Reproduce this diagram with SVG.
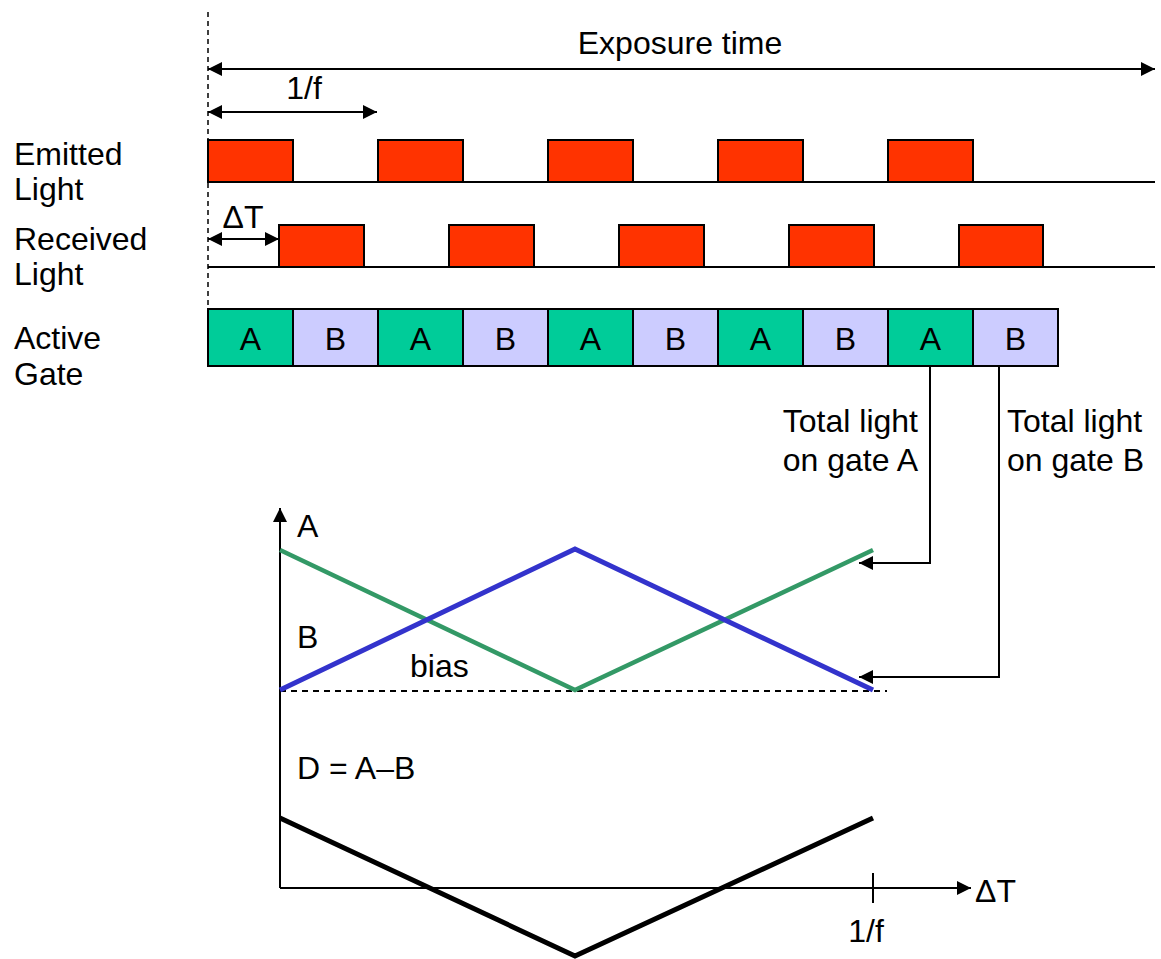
<svg xmlns="http://www.w3.org/2000/svg" width="1161" height="959" viewBox="0 0 1161 959">
<style>
text{font-family:"Liberation Sans",Arial,sans-serif;font-size:32px;fill:#000}
.mid{text-anchor:middle}
.end{text-anchor:end}
.pulse{fill:#FF3300;stroke:#000;stroke-width:2}
.ga{fill:#00CC99;stroke:#000;stroke-width:2}
.gb{fill:#CCCCFF;stroke:#000;stroke-width:2}
.ln{stroke:#000;stroke-width:2;fill:none}
</style>
<defs>
<marker id="ah" viewBox="0 0 10 10" refX="10" refY="5" markerWidth="15" markerHeight="14" markerUnits="userSpaceOnUse" orient="auto-start-reverse"><path d="M0,0 L10,5 L0,10 z" fill="#000"/></marker>
</defs>
<rect width="1161" height="959" fill="#fff"/>
<g id="labels">
<text x="14" y="165">Emitted</text><text x="14" y="200">Light</text>
<text x="14" y="250">Received</text><text x="14" y="285">Light</text>
<text x="14" y="349">Active</text><text x="14" y="385">Gate</text>
<text x="680" y="54" class="mid">Exposure time</text>
<text x="304" y="99" class="mid">1/f</text>
<text x="243" y="228" class="mid">ΔT</text>
</g>
<g id="connectors">
<line x1="208" y1="12" x2="208" y2="305" stroke="#000" stroke-width="1.5" stroke-dasharray="5,4"/>
<line class="ln" x1="208" y1="69" x2="1155" y2="69" marker-start="url(#ah)" marker-end="url(#ah)"/>
<line class="ln" x1="208" y1="112" x2="377" y2="112" marker-start="url(#ah)" marker-end="url(#ah)"/>
<line class="ln" x1="208" y1="239" x2="279" y2="239" marker-start="url(#ah)" marker-end="url(#ah)"/>
<line class="ln" x1="208" y1="182" x2="1155" y2="182"/>
<line class="ln" x1="208" y1="267" x2="1155" y2="267"/>
<polyline class="ln" points="930,366 930,563 859,563" marker-end="url(#ah)"/>
<polyline class="ln" points="999,366 999,677 859,677" marker-end="url(#ah)"/>
</g>
<g id="emitted">
<rect class="pulse" x="208" y="140" width="85" height="42"/>
<rect class="pulse" x="378" y="140" width="85" height="42"/>
<rect class="pulse" x="548" y="140" width="85" height="42"/>
<rect class="pulse" x="718" y="140" width="85" height="42"/>
<rect class="pulse" x="888" y="140" width="85" height="42"/>
</g>
<g id="received">
<rect class="pulse" x="279" y="225" width="85" height="42"/>
<rect class="pulse" x="449" y="225" width="85" height="42"/>
<rect class="pulse" x="619" y="225" width="85" height="42"/>
<rect class="pulse" x="789" y="225" width="85" height="42"/>
<rect class="pulse" x="959" y="225" width="84" height="42"/>
</g>
<g id="gates">
<rect class="ga" x="208" y="309" width="85" height="57"/><text x="250.5" y="350" class="mid">A</text>
<rect class="gb" x="293" y="309" width="85" height="57"/><text x="335.5" y="350" class="mid">B</text>
<rect class="ga" x="378" y="309" width="85" height="57"/><text x="420.5" y="350" class="mid">A</text>
<rect class="gb" x="463" y="309" width="85" height="57"/><text x="505.5" y="350" class="mid">B</text>
<rect class="ga" x="548" y="309" width="85" height="57"/><text x="590.5" y="350" class="mid">A</text>
<rect class="gb" x="633" y="309" width="85" height="57"/><text x="675.5" y="350" class="mid">B</text>
<rect class="ga" x="718" y="309" width="85" height="57"/><text x="760.5" y="350" class="mid">A</text>
<rect class="gb" x="803" y="309" width="85" height="57"/><text x="845.5" y="350" class="mid">B</text>
<rect class="ga" x="888" y="309" width="85" height="57"/><text x="930.5" y="350" class="mid">A</text>
<rect class="gb" x="973" y="309" width="85" height="57"/><text x="1015.5" y="350" class="mid">B</text>
</g>
<g id="totals">
<text x="918" y="432" class="end">Total light</text><text x="918" y="471" class="end">on gate A</text>
<text x="1007" y="432">Total light</text><text x="1007" y="471">on gate B</text>
</g>
<g id="graph">
<line class="ln" x1="280" y1="888" x2="280" y2="508" marker-end="url(#ah)"/>
<line class="ln" x1="280" y1="888" x2="971" y2="888" marker-end="url(#ah)"/>
<line class="ln" x1="873" y1="873" x2="873" y2="903"/>
<line x1="280" y1="691" x2="887" y2="691" stroke="#000" stroke-width="1.8" stroke-dasharray="6,5"/>
<polyline points="280,550 575,690 873,550" fill="none" stroke="#339966" stroke-width="4.5"/>
<polyline points="280,690 575,549 873,690" fill="none" stroke="#3333CC" stroke-width="5"/>
<polyline points="280,818 575,956 873,818" fill="none" stroke="#000" stroke-width="5"/>
<text x="297" y="537">A</text>
<text x="297" y="648">B</text>
<text x="410" y="677">bias</text>
<text x="297" y="779">D = A–B</text>
<text x="975" y="902">ΔT</text>
<text x="866" y="942" class="mid">1/f</text>
</g>
</svg>
